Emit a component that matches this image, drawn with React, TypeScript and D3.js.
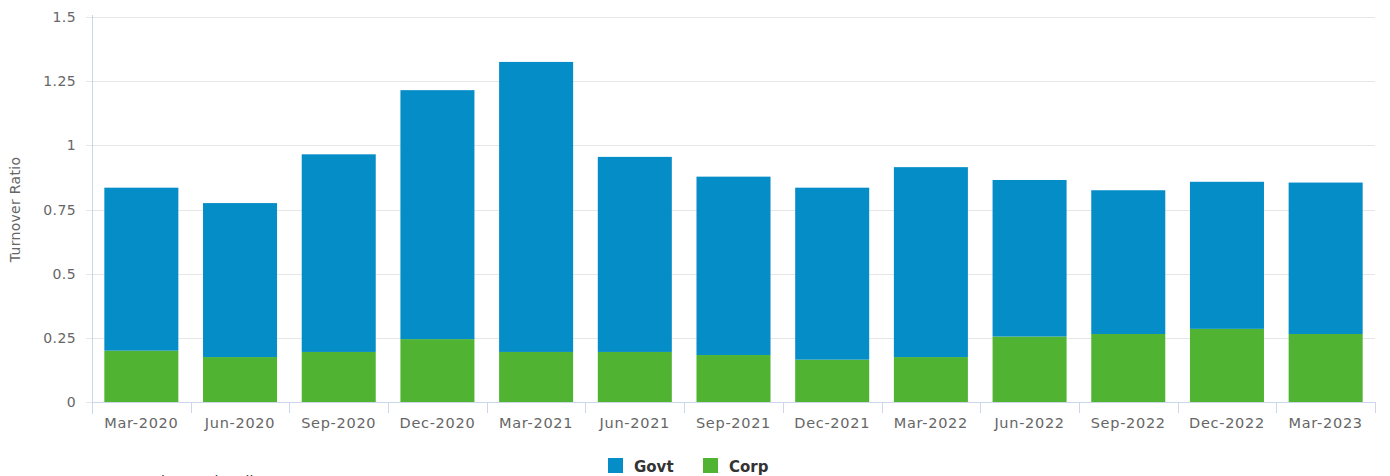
import React from "react";
import * as d3 from "d3";

const categories = ["Mar-2020","Jun-2020","Sep-2020","Dec-2020","Mar-2021","Jun-2021","Sep-2021","Dec-2021","Mar-2022","Jun-2022","Sep-2022","Dec-2022","Mar-2023"];
const govt = [0.635, 0.6, 0.77, 0.97, 1.13, 0.76, 0.695, 0.67, 0.74, 0.61, 0.56, 0.573, 0.59];
const corp = [0.2, 0.175, 0.195, 0.245, 0.195, 0.195, 0.183, 0.165, 0.175, 0.255, 0.265, 0.285, 0.265];
const yTicks = [0, 0.25, 0.5, 0.75, 1, 1.25, 1.5];
const seriesNames = ["Govt", "Corp"];
const colors = ["#058DC7", "#50B432"];

const W = 1390, H = 476;
const left = 92, right = 1375, top = 17, bottom = 402;

export default function App() {
  const x = d3.scaleBand<string>().domain(categories).range([left, right]).paddingInner(0.25).paddingOuter(0.125);
  const xb = d3.scaleBand<string>().domain(categories).range([left, right]);
  const y = d3.scaleLinear().domain([0, 1.5]).range([bottom, top]);
  const fmt = (v: number) => String(v);
  const font = "'DejaVu Sans', sans-serif";
  return (
    <svg width={W} height={H} style={{ position: "absolute", left: 0, top: 0, display: "block" }} fontFamily={font}>
      <rect width={W} height={H} fill="#fff" />
      {yTicks.map((t) => (
        <g key={t}>
          <line x1={left - 6} x2={right} y1={Math.round(y(t)) + 0.5} y2={Math.round(y(t)) + 0.5} stroke="#e6e6e6" />
          <text x={76} y={y(t) + 5} textAnchor="end" fontSize={14} letterSpacing={0.4} fill="#666">{fmt(t)}</text>
        </g>
      ))}
      <line x1={left + 0.5} x2={left + 0.5} y1={top - 2} y2={bottom + 12} stroke="#ccd6eb" />
      {categories.map((c, i) => (
        <g key={c}>
          <rect x={x(c)} y={y(corp[i])} width={x.bandwidth()} height={y(0) - y(corp[i])} fill={colors[1]} />
          <rect x={x(c)} y={y(corp[i] + govt[i])} width={x.bandwidth()} height={y(corp[i]) - y(corp[i] + govt[i])} fill={colors[0]} />
          <line x1={Math.round(xb(c)! + xb.bandwidth()) + 0.5} x2={Math.round(xb(c)! + xb.bandwidth()) + 0.5} y1={bottom} y2={bottom + 11} stroke="#ccd6eb" />
          <text x={x(c)! + x.bandwidth() / 2} y={bottom + 26} textAnchor="middle" fontSize={14.5} letterSpacing={0.7} fill="#666">{c}</text>
        </g>
      ))}
      <line x1={left} x2={right} y1={bottom + 0.5} y2={bottom + 0.5} stroke="#ccd6eb" />
      <text transform={`translate(20,${(top + bottom) / 2}) rotate(-90)`} textAnchor="middle" fontSize={14} letterSpacing={0.3} fill="#666">Turnover Ratio</text>
      {seriesNames.map((s, i) => (
        <g key={s} transform={`translate(${608 + i * 95},458)`}>
          <rect width={15} height={15} fill={colors[i]} />
          <text x={26} y={14} fontSize={15} fontWeight="bold" fill="#333">{s}</text>
        </g>
      ))}
      <text x={87} y={486} fontSize={14} fill="#333">Source: AsianBondsOnline</text>
    </svg>
  );
}
